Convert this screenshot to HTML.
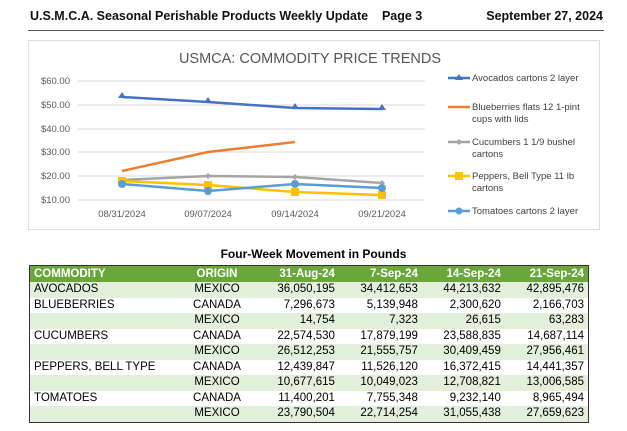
<!DOCTYPE html>
<html><head><meta charset="utf-8"><style>
body{margin:0;width:627px;height:431px;background:#fff;font-family:"Liberation Sans",sans-serif;position:relative;overflow:hidden}
.hdr{position:absolute;top:9px;left:30px;width:573px;font-weight:bold;font-size:12.5px;color:#111}
.hdr span{position:absolute;right:0;top:0}
.rule{position:absolute;left:28px;top:30px;width:576px;height:1px;background:#555}
.box{position:absolute;left:28px;top:40px;width:570px;height:188px;border:1px solid #ddd}
table{position:absolute;left:29px;top:265px;width:560px;border-collapse:collapse;font-size:11.5px;border:1.5px solid #333}
td{height:15.5px;padding:0 4px;line-height:15.5px}
th{background:#6aa73b;color:#fff;height:16px;text-align:right;padding:0 4px;font-size:11.5px}
tr:nth-child(even) td{background:#e2efda}
td.n{text-align:right}
td.o{text-align:center}
.tt{position:absolute;top:247px;left:0;width:627px;text-align:center;font-weight:bold;font-size:12px}
</style></head><body>
<div class="hdr">U.S.M.C.A. Seasonal Perishable Products Weekly Update &nbsp;&nbsp; Page 3<span>September 27, 2024</span></div>
<div class="rule"></div>
<div class="box"></div>
<svg width="627" height="240" style="position:absolute;left:0;top:0" font-family="Liberation Sans, sans-serif">
<text x="310" y="63" font-size="14.5" fill="#555" text-anchor="middle">USMCA: COMMODITY PRICE TRENDS</text>
<g stroke="#d9d9d9" stroke-width="1">
<line x1="78" x2="425" y1="81" y2="81"/><line x1="78" x2="425" y1="105" y2="105"/><line x1="78" x2="425" y1="129" y2="129"/><line x1="78" x2="425" y1="152" y2="152"/><line x1="78" x2="425" y1="176" y2="176"/><line x1="78" x2="425" y1="200" y2="200"/></g>
<g font-size="9.5" fill="#595959" text-anchor="end">
<text x="70" y="84">$60.00</text><text x="70" y="108">$50.00</text><text x="70" y="132">$40.00</text><text x="70" y="155">$30.00</text><text x="70" y="179">$20.00</text><text x="70" y="203">$10.00</text></g>
<g font-size="9.5" fill="#595959" text-anchor="middle">
<text x="122" y="217">08/31/2024</text><text x="208" y="217">09/07/2024</text><text x="295" y="217">09/14/2024</text><text x="382" y="217">09/21/2024</text></g>
<polyline points="122,97 208,102 295,108 382,109" fill="none" stroke="#4472c4" stroke-width="2.5"/>
<g fill="#4472c4"><path d="M122,92l4,6h-8z"/><path d="M208,97l4,6h-8z"/><path d="M295,103l4,6h-8z"/><path d="M382,104l4,6h-8z"/></g>
<polyline points="122,171 208,152 295,142" fill="none" stroke="#ed7d31" stroke-width="2.5"/>
<polyline points="122,180 208,176 295,177 382,183" fill="none" stroke="#a5a5a5" stroke-width="2.5"/>
<g fill="#a5a5a5"><path d="M122,177l3,3-3,3-3-3z"/><path d="M208,173l3,3-3,3-3-3z"/><path d="M295,174l3,3-3,3-3-3z"/><path d="M382,180l3,3-3,3-3-3z"/></g>
<polyline points="122,181 208,185 295,192 382,195" fill="none" stroke="#ffc000" stroke-width="2.5"/>
<g fill="#ffc000"><rect x="118" y="177" width="8" height="8"/><rect x="204" y="181" width="8" height="8"/><rect x="291" y="188" width="8" height="8"/><rect x="378" y="191" width="8" height="8"/></g>
<polyline points="122,184 208,191 295,184 382,188" fill="none" stroke="#5b9bd5" stroke-width="2.5"/>
<g fill="#5b9bd5"><circle cx="122" cy="184" r="4"/><circle cx="208" cy="191" r="4"/><circle cx="295" cy="184" r="4"/><circle cx="382" cy="188" r="4"/></g>
<g font-size="9.5" fill="#404040">
<line x1="448" x2="470" y1="78" y2="78" stroke="#4472c4" stroke-width="2.5"/><path d="M459,74l4,6h-8z" fill="#4472c4"/>
<text x="472" y="81">Avocados cartons 2 layer</text>
<line x1="448" x2="470" y1="107" y2="107" stroke="#ed7d31" stroke-width="2.5"/>
<text x="472" y="110">Blueberries flats 12 1-pint</text><text x="472" y="122">cups with lids</text>
<line x1="448" x2="470" y1="142" y2="142" stroke="#a5a5a5" stroke-width="2.5"/><path d="M459,139l3,3-3,3-3-3z" fill="#a5a5a5"/>
<text x="472" y="145">Cucumbers 1 1/9 bushel</text><text x="472" y="157">cartons</text>
<line x1="448" x2="470" y1="176" y2="176" stroke="#ffc000" stroke-width="2.5"/><rect x="455" y="172" width="8" height="8" fill="#ffc000"/>
<text x="472" y="179">Peppers, Bell Type 11 lb</text><text x="472" y="191">cartons</text>
<line x1="448" x2="470" y1="211" y2="211" stroke="#5b9bd5" stroke-width="2.5"/><circle cx="459" cy="211" r="3.5" fill="#5b9bd5"/>
<text x="472" y="214">Tomatoes cartons 2 layer</text></g>
</svg>
<div class="tt">Four-Week Movement in Pounds</div>
<table>
<tr><th style="text-align:left;width:140px">COMMODITY</th><th style="text-align:center;width:70px">ORIGIN</th><th>31-Aug-24</th><th>7-Sep-24</th><th>14-Sep-24</th><th>21-Sep-24</th></tr>
<tr><td>AVOCADOS</td><td class="o">MEXICO</td><td class="n">36,050,195</td><td class="n">34,412,653</td><td class="n">44,213,632</td><td class="n">42,895,476</td></tr>
<tr><td>BLUEBERRIES</td><td class="o">CANADA</td><td class="n">7,296,673</td><td class="n">5,139,948</td><td class="n">2,300,620</td><td class="n">2,166,703</td></tr>
<tr><td></td><td class="o">MEXICO</td><td class="n">14,754</td><td class="n">7,323</td><td class="n">26,615</td><td class="n">63,283</td></tr>
<tr><td>CUCUMBERS</td><td class="o">CANADA</td><td class="n">22,574,530</td><td class="n">17,879,199</td><td class="n">23,588,835</td><td class="n">14,687,114</td></tr>
<tr><td></td><td class="o">MEXICO</td><td class="n">26,512,253</td><td class="n">21,555,757</td><td class="n">30,409,459</td><td class="n">27,956,461</td></tr>
<tr><td>PEPPERS, BELL TYPE</td><td class="o">CANADA</td><td class="n">12,439,847</td><td class="n">11,526,120</td><td class="n">16,372,415</td><td class="n">14,441,357</td></tr>
<tr><td></td><td class="o">MEXICO</td><td class="n">10,677,615</td><td class="n">10,049,023</td><td class="n">12,708,821</td><td class="n">13,006,585</td></tr>
<tr><td>TOMATOES</td><td class="o">CANADA</td><td class="n">11,400,201</td><td class="n">7,755,348</td><td class="n">9,232,140</td><td class="n">8,965,494</td></tr>
<tr><td></td><td class="o">MEXICO</td><td class="n">23,790,504</td><td class="n">22,714,254</td><td class="n">31,055,438</td><td class="n">27,659,623</td></tr>
</table>
</body></html>
